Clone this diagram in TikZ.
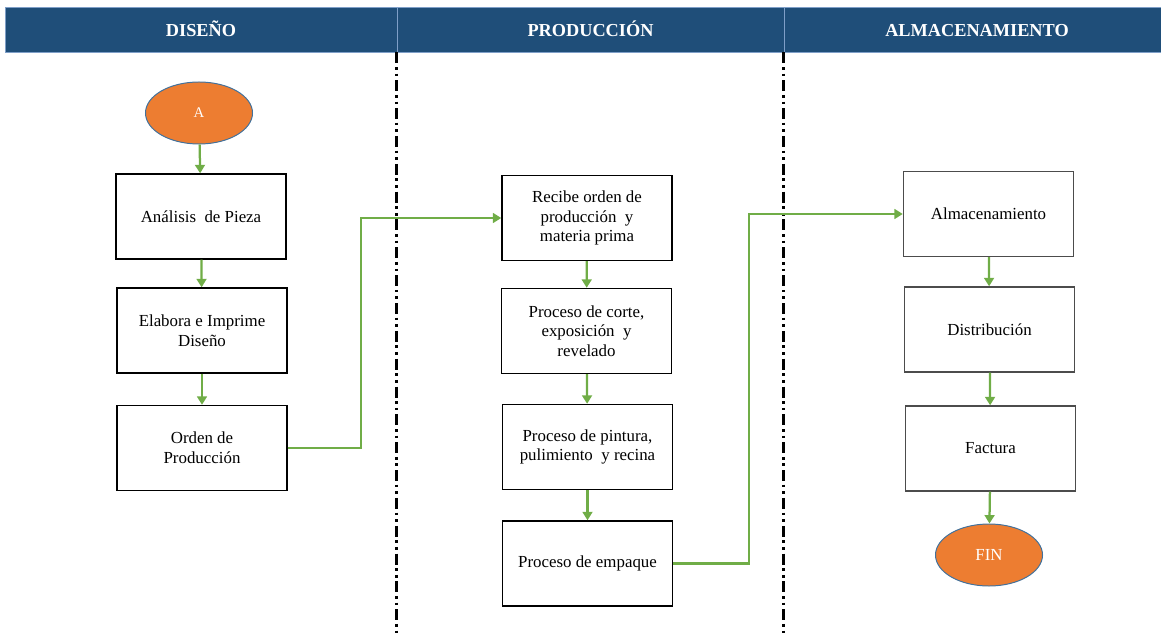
\documentclass[tikz,border=0pt]{standalone}
\usepackage{fontspec}
\setmainfont{Liberation Serif}
\usetikzlibrary{arrows.meta,shapes.geometric}

\definecolor{azulcab}{HTML}{1F4E79}
\definecolor{bordecab}{HTML}{7F9FC8}
\definecolor{naranja}{HTML}{ED7D31}
\definecolor{bordeoval}{HTML}{41719C}
\definecolor{verde}{HTML}{70AD47}

\begin{document}
\begin{tikzpicture}[x=0.025cm,y=-0.025cm,
		cabecera/.style={draw=bordecab,line width=0.6pt,fill=azulcab,minimum height=1.125cm,inner sep=0pt,text height=11pt,text depth=0.7pt,text=white,font=\fontsize{13}{15}\selectfont\bfseries},
		caja/.style={draw,line width=1pt,minimum width=4.25cm,minimum height=2.125cm,align=center,font=\fontsize{12}{14}\selectfont},
		cajagris/.style={caja,draw=black!70},
		oval/.style={ellipse,draw=bordeoval,line width=0.7pt,fill=naranja,minimum width=2.675cm,minimum height=1.55cm,inner sep=0pt,text=white},
		flecha/.style={verde,line width=1.6pt,-{Triangle[length=6pt,width=7pt]}},
		divisor/.style={line width=1.5pt,dash pattern={on 7.8pt off 2.6pt on 1.9pt off 2.8pt on 1.9pt off 2.8pt}}]
		\useasboundingbox (0,0) rectangle (1161,635);
		% cabecera de carriles
		\node[cabecera,minimum width=9.8cm] (h1) at (201,29.5) {DISEÑO};
		\node[cabecera,minimum width=9.675cm] (h2) at (590.5,29.5) {PRODUCCIÓN};
		\node[cabecera,minimum width=9.65cm] (h3) at (977,29.5) {ALMACENAMIENTO};
		\draw[divisor] (h2.south west) -- ++(0,583);
		\draw[divisor] (h3.south west) -- ++(0,583);
		% diseño
		\node[oval,font=\fontsize{10.5}{12}\selectfont] (a) at (199,113) {A};
		\node[caja] (ana) at (201,216.5) {Análisis~ de Pieza};
		\node[caja] (ela) at (202,330.5) {Elabora e Imprime\\Diseño};
		\node[caja] (ord) at (202,448) {Orden de\\Producción};
		% producción
		\node[caja] (rec) at (587,218) {Recibe orden de\\producción~ y\\materia prima};
		\node[caja] (cor) at (586.5,331) {Proceso de corte,\\exposición~ y\\revelado};
		\node[caja] (pin) at (587.5,447) {Proceso de pintura,\\pulimiento~ y recina};
		\node[caja] (emp) at (587.5,563.5) {Proceso de empaque};
		% almacenamiento
		\node[cajagris] (alm) at (988.5,214) {Almacenamiento};
		\node[cajagris] (dis) at (989.5,329.5) {Distribución};
		\node[cajagris] (fac) at (990.5,448.5) {Factura};
		\node[oval,font=\fontsize{12}{14}\selectfont] (fin) at (989,555) {FIN};
		% flujo
		\draw[flecha] (a) -- (ana);
		\draw[flecha] (ana) -- (ela);
		\draw[flecha] (ela) -- (ord);
		\draw[flecha] (ord.east) -- ++(73,0) |- (rec.west);
		\draw[flecha] (rec) -- (cor);
		\draw[flecha] (cor) -- (pin);
		\draw[flecha] (pin) -- (emp);
		\draw[flecha] (emp.east) -- ++(76,0) |- (alm.west);
		\draw[flecha] (alm) -- (dis);
		\draw[flecha] (dis) -- (fac);
		\draw[flecha] (fac) -- (fin);
\end{tikzpicture}
\end{document}
